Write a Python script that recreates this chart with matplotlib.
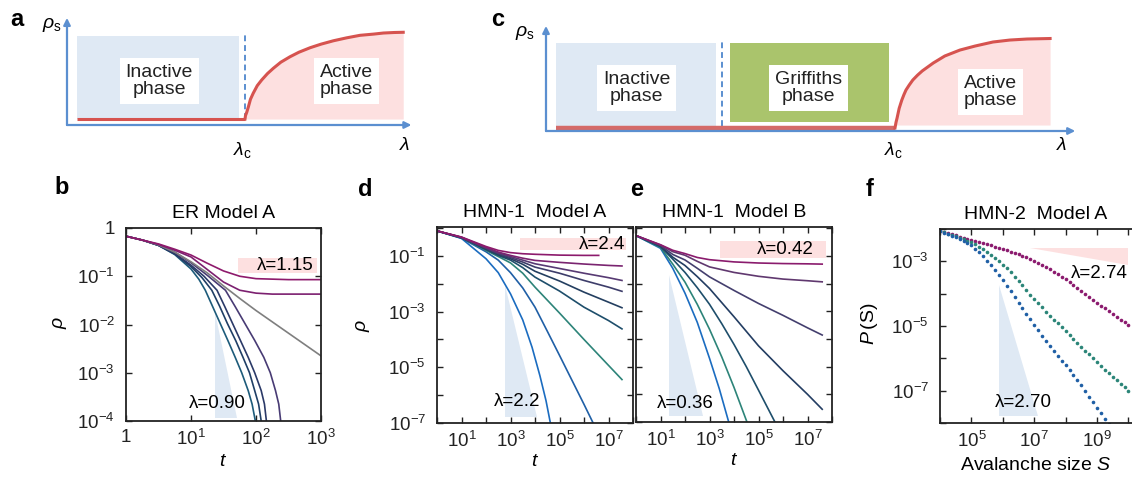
import matplotlib
matplotlib.use('Agg')
import matplotlib.pyplot as plt
import numpy as np
from matplotlib.patches import Rectangle, Polygon
from matplotlib.ticker import FixedLocator, FuncFormatter

plt.rcParams['font.family'] = ['Liberation Sans', 'DejaVu Sans']
plt.rcParams['mathtext.fontset'] = 'custom'
plt.rcParams['mathtext.rm'] = 'Liberation Sans'
plt.rcParams['mathtext.it'] = 'Liberation Sans:italic'
plt.rcParams['mathtext.bf'] = 'Liberation Sans:bold'

# ---------------- schematic phase diagrams (a, c) ----------------
# schematic units: lambda axis 0..10, rho_s axis 0..10
a_inactive = (0.29, 5.04, 0.57, 8.48)      # lam0, lam1, rho0, rho1
a_lam_c = 5.22
a_dash_top = 8.76
a_curve_lam = [5.22, 5.235, 5.27, 5.32, 5.38, 5.46, 5.58, 5.71, 5.88, 6.05, 6.27, 6.54,
               6.8, 7.13, 7.45, 7.81, 8.2, 8.59, 9.0, 9.28, 9.6, 9.86]
a_curve_rho = [0.57, 0.9, 1.2, 1.74, 2.45, 3.02, 3.75, 4.29, 4.9, 5.40, 5.98, 6.50,
               6.93, 7.36, 7.7, 8.02, 8.3, 8.54, 8.66, 8.76, 8.81, 8.83]

c_inactive = (0.19, 3.24, 0.49, 8.54)
c_dash_lam = 3.36
c_griffiths = (3.51, 6.55, 0.87, 8.54)
c_lam_c = 6.66
c_flat_rho = 0.29
c_curve_lam = [6.66, 6.68, 6.70, 6.74, 6.79, 6.83, 6.87, 6.93, 7.00, 7.09, 7.18, 7.39,
               7.61, 7.90, 8.19, 8.53, 8.85, 9.18, 9.62]
c_curve_rho = [0.29, 0.85, 1.26, 2.2, 3.00, 3.52, 3.98, 4.45, 4.95, 5.42, 5.83, 6.60,
               7.28, 7.86, 8.25, 8.64, 8.83, 8.93, 8.98]

# ---------------- panel b: ER Model A (log10 t, log10 rho) ----------------
b_colors = ['#1d5b7a', '#203f66', '#2b3a68', '#483b74', '#7f7f7f', '#7c2070', '#8e1a6c']
b_logt = [
    [0, .25, .5, .75, 1, 1.12, 1.22, 1.33, 1.45, 1.57, 1.68, 1.78, 1.88, 1.94, 1.99, 2.02],
    [0, .25, .5, .75, 1, 1.17, 1.32, 1.44, 1.56, 1.69, 1.8, 1.9, 1.98, 2.04, 2.08, 2.11],
    [0, .25, .5, .75, 1, 1.2, 1.4, 1.52, 1.64, 1.76, 1.88, 1.98, 2.08, 2.13, 2.16, 2.19],
    [0, .25, .5, .75, 1, 1.25, 1.53, 1.68, 1.83, 1.98, 2.12, 2.22, 2.30, 2.35, 2.38, 2.41],
    [0, .25, .5, .75, 1, 1.25, 1.5, 1.75, 2, 2.5, 3],
    [0, .25, .5, .75, 1, 1.25, 1.5, 1.75, 2, 2.25, 2.5, 3],
    [0, .25, .5, .75, 1, 1.25, 1.5, 1.75, 2, 2.5, 3],
]
b_logrho = [
    [-.17, -.25, -.36, -.55, -.85, -1.06, -1.29, -1.62, -1.98, -2.34, -2.68, -3.0, -3.37, -3.65, -4.0, -4.25],
    [-.17, -.25, -.36, -.54, -.8, -1.03, -1.29, -1.62, -1.98, -2.34, -2.68, -3.0, -3.37, -3.65, -4.0, -4.25],
    [-.17, -.25, -.36, -.53, -.77, -1.0, -1.29, -1.63, -1.98, -2.33, -2.68, -3.0, -3.37, -3.65, -4.0, -4.25],
    [-.17, -.25, -.35, -.5, -.72, -.98, -1.29, -1.63, -1.98, -2.33, -2.68, -3.0, -3.37, -3.65, -4.0, -4.25],
    [-.17, -.25, -.35, -.5, -.7, -.93, -1.2, -1.46, -1.71, -2.18, -2.65],
    [-.17, -.25, -.34, -.46, -.6, -.86, -1.12, -1.29, -1.35, -1.37, -1.37, -1.37],
    [-.17, -.25, -.33, -.44, -.56, -.73, -.89, -1.0, -1.05, -1.07, -1.07],
]

# ---------------- panel d: HMN-1 Model A ----------------
d_colors = ['#1b6cc0', '#1f5fa6', '#2d8479', '#1e4e6b', '#243f60', '#3d3d6a', '#573a73', '#7a2470', '#8c1a6c']
d_logt = [
    [0, 1, 2, 2.5, 3, 3.5, 3.88, 4.2, 4.45, 4.65],
    [0, 1, 2, 2.5, 3, 3.5, 4, 4.5, 5, 5.5, 6, 6.4],
    [0, 1, 2, 2.5, 3, 3.5, 4, 5, 6, 7, 7.55],
    [0, 1, 2, 2.5, 3, 3.5, 4, 5, 6, 7, 7.55],
    [0, 1, 2, 2.5, 3, 3.5, 4, 5, 6, 7, 7.55],
    [0, 1, 2, 2.5, 3, 3.5, 4, 5, 6, 7, 7.55],
    [0, 1, 2, 2.5, 3, 3.5, 4, 5, 6, 7, 7.55],
    [0, 1, 2, 2.5, 3, 3.5, 4, 5, 6, 7, 7.55],
    [0, 1, 2, 2.5, 3, 3.5, 4, 5, 6, 6.6],
]
d_logrho = [
    [-.1, -.37, -1.1, -1.6, -2.36, -3.3, -4.28, -5.3, -6.2, -7.1],
    [-.1, -.36, -.85, -1.15, -1.6, -2.15, -2.84, -3.7, -4.57, -5.45, -6.33, -7.05],
    [-.1, -.35, -.8, -1.02, -1.25, -1.62, -2.12, -3.05, -4.0, -4.93, -5.44],
    [-.1, -.35, -.77, -.98, -1.15, -1.42, -1.76, -2.26, -2.84, -3.32, -3.62],
    [-.1, -.34, -.75, -.95, -1.1, -1.3, -1.55, -1.9, -2.3, -2.66, -2.86],
    [-.1, -.34, -.73, -.92, -1.06, -1.22, -1.4, -1.62, -1.88, -2.12, -2.27],
    [-.1, -.33, -.71, -.89, -1.02, -1.15, -1.28, -1.45, -1.62, -1.78, -1.88],
    [-.1, -.33, -.69, -.86, -.98, -1.08, -1.16, -1.23, -1.29, -1.34, -1.36],
    [-.1, -.32, -.66, -.8, -.88, -.92, -.94, -.97, -.98, -.98],
]

# ---------------- panel e: HMN-1 Model B ----------------
e_colors = ['#1b6cc0', '#2d8479', '#1e4e6b', '#233d62', '#443f6e', '#60386f', '#8a1b6d']
e_logt = [
    [0, 1, 1.5, 2, 2.5, 3, 3.4, 3.8],
    [0, 1, 1.5, 2, 2.5, 3, 3.5, 4, 4.55],
    [0, 1, 1.5, 2, 2.5, 3, 3.5, 4, 4.5, 5, 5.7],
    [0, 1, 1.5, 2, 2.5, 3, 4, 5, 6, 7, 7.6],
    [0, 1, 1.5, 2, 2.5, 3, 4, 5, 6, 7, 7.6],
    [0, 1, 1.5, 2, 2.5, 3, 4, 5, 6, 7, 7.6],
    [0, 1, 1.5, 2, 2.5, 3, 4, 5, 6, 7, 7.6],
]
e_logrho = [
    [-.27, -.73, -1.45, -2.35, -3.4, -4.7, -5.8, -7.05],
    [-.27, -.7, -1.3, -1.95, -2.75, -3.65, -4.65, -5.75, -7.05],
    [-.27, -.67, -1.12, -1.6, -2.15, -2.75, -3.45, -4.2, -5.0, -5.85, -7.05],
    [-.27, -.65, -1.05, -1.35, -1.75, -2.18, -3.2, -4.25, -5.15, -6.0, -6.54],
    [-.27, -.63, -.95, -1.15, -1.45, -1.76, -2.25, -2.72, -3.15, -3.6, -3.86],
    [-.27, -.61, -.85, -.98, -1.2, -1.4, -1.6, -1.74, -1.84, -1.9, -1.94],
    [-.27, -.6, -.8, -.92, -1.06, -1.14, -1.22, -1.26, -1.28, -1.29, -1.30],
]

# ---------------- panel f: HMN-2 avalanche sizes, log10 S from 4 in steps of 1/8 ----------------
f_logS = np.linspace(4, 10, 49)
f_logP_274 = [-2.070, -2.102, -2.135, -2.168, -2.200, -2.232, -2.265, -2.298,
              -2.330, -2.365, -2.400, -2.435, -2.470, -2.507, -2.545, -2.582,
              -2.620, -2.660, -2.700, -2.740, -2.780, -2.828, -2.877, -2.927,
              -2.980, -3.045, -3.112, -3.180, -3.250, -3.326, -3.404, -3.482,
              -3.560, -3.650, -3.740, -3.830, -3.920, -4.010, -4.100, -4.190,
              -4.280, -4.367, -4.455, -4.542, -4.630, -4.715, -4.800, -4.885, -4.970]
f_logP_272 = [-2.070, -2.105, -2.142, -2.180, -2.220, -2.265, -2.310, -2.358,
              -2.410, -2.475, -2.545, -2.620, -2.700, -2.795, -2.895, -2.995,
              -3.100, -3.220, -3.345, -3.470, -3.600, -3.740, -3.885, -4.030,
              -4.170, -4.300, -4.425, -4.552, -4.680, -4.800, -4.915, -5.032,
              -5.150, -5.272, -5.395, -5.518, -5.640, -5.760, -5.880, -6.000,
              -6.120, -6.235, -6.350, -6.465, -6.580, -6.685, -6.790, -6.895, -7.000]
f_logP_270 = [-2.070, -2.113, -2.157, -2.203, -2.250, -2.308, -2.370, -2.435,
              -2.500, -2.610, -2.725, -2.850, -2.980, -3.125, -3.275, -3.428,
              -3.580, -3.755, -3.930, -4.105, -4.280, -4.452, -4.625, -4.797,
              -4.970, -5.132, -5.295, -5.458, -5.620, -5.770, -5.920, -6.070,
              -6.220, -6.375, -6.530, -6.685, -6.840, -7.012, -7.185, -7.358,
              -7.530, -7.700, -7.870, -8.040]
f_series = [(f_logP_274, '#8b1a6e'), (f_logP_272, '#2b8578'), (f_logP_270, '#1f5fa5')]

# ---------------- figure ----------------
W, H = 1132, 479
fig = plt.figure(figsize=(W / 100, H / 100), dpi=100)

def px_axes(x0, y0, x1, y1):
    return fig.add_axes([x0 / W, 1 - y1 / H, (x1 - x0) / W, (y1 - y0) / H])

def ftext(x, y, s, **kw):
    fig.text(x / W, 1 - y / H, s, **kw)

BLUE_AX = '#5b8fd0'
RED = '#d6534f'
PINK = '#fde0e0'
LBLUE = '#dfe9f4'
GREEN = '#aac46c'
TICK_FS = 13.5
LAB_FS = 14
LAM_FS = 13.5

def schematic(ax):
    ax.set_xlim(0, 10)
    ax.set_ylim(0, 10)
    ax.axis('off')
    ap = dict(arrowstyle='-|>', color=BLUE_AX, lw=1.6, mutation_scale=10, shrinkA=0, shrinkB=0)
    ax.annotate('', xy=(10.1, 0), xytext=(0, 0), arrowprops=ap, annotation_clip=False)
    ax.annotate('', xy=(0, 10.2), xytext=(0, 0), arrowprops=ap, annotation_clip=False)

def phase_box(ax, x, y, s):
    ax.text(x, y, s, ha='center', va='center', fontsize=14, color='#222222', linespacing=1.05,
            bbox=dict(facecolor='white', edgecolor='none', pad=4))

# panel a
axa = px_axes(67, 20, 408, 125)
schematic(axa)
l0, l1, r0, r1 = a_inactive
axa.add_patch(Rectangle((l0, r0), l1 - l0, r1 - r0, facecolor=LBLUE, edgecolor='none'))
axa.plot([a_lam_c, a_lam_c], [r0, a_dash_top], ls=(0, (3, 2)), color=BLUE_AX, lw=1.4)
axa.fill_between(a_curve_lam, r0, a_curve_rho, color=PINK, lw=0)
axa.plot([l0, a_lam_c], [r0, r0], color=RED, lw=2.2, solid_capstyle='butt')
axa.plot(a_curve_lam, a_curve_rho, color=RED, lw=2.2)
phase_box(axa, 2.71, 4.19, 'Inactive\nphase')
phase_box(axa, 8.20, 4.19, 'Active\nphase')
ftext(17, 20, 'a', fontsize=17, fontweight='bold', ha='center', va='center')
ftext(52, 25, r'$\rho_{\rm s}$', fontsize=14, ha='center', va='center')
ftext(242, 150, r'$\lambda_{\rm c}$', fontsize=14, ha='center', va='center')
ftext(405, 146, r'$\lambda$', fontsize=14, ha='center', va='center')

# panel c
axc = px_axes(546, 28, 1070, 131)
schematic(axc)
l0, l1, r0, r1 = c_inactive
axc.add_patch(Rectangle((l0, r0), l1 - l0, r1 - r0, facecolor=LBLUE, edgecolor='none'))
g0, g1, s0, s1 = c_griffiths
axc.add_patch(Rectangle((g0, s0), g1 - g0, s1 - s0, facecolor=GREEN, edgecolor='none'))
axc.plot([c_dash_lam, c_dash_lam], [r0, 8.7], ls=(0, (3, 2)), color=BLUE_AX, lw=1.4)
axc.fill_between(c_curve_lam, 0.58, c_curve_rho, color=PINK, lw=0)
axc.plot([l0, c_lam_c], [c_flat_rho, c_flat_rho], color='#d46a68', lw=3.2, solid_capstyle='butt')
axc.plot(c_curve_lam, c_curve_rho, color=RED, lw=2.2)
phase_box(axc, 1.73, 4.17, 'Inactive\nphase')
phase_box(axc, 5.01, 4.17, 'Griffiths\nphase')
phase_box(axc, 8.48, 3.79, 'Active\nphase')
ftext(498, 20, 'c', fontsize=17, fontweight='bold', ha='center', va='center')
ftext(525, 33, r'$\rho_{\rm s}$', fontsize=14, ha='center', va='center')
ftext(893, 150, r'$\lambda_{\rm c}$', fontsize=14, ha='center', va='center')
ftext(1062, 146, r'$\lambda$', fontsize=14, ha='center', va='center')

# ---------------- log panels ----------------
def pow_formatter(labelled):
    def fmt(v, pos):
        e = int(round(np.log10(v)))
        if e not in labelled:
            return ''
        return '1' if e == 0 else r'$10^{%d}$' % e
    return FuncFormatter(fmt)

def log_axes(ax, xe, ye, xlab, ylab, xlim, ylim, right=True):
    ax.set_xscale('log')
    ax.set_yscale('log')
    ax.set_xlim(*xlim)
    ax.set_ylim(*ylim)
    ax.xaxis.set_major_locator(FixedLocator([10.0 ** k for k in xe]))
    ax.yaxis.set_major_locator(FixedLocator([10.0 ** k for k in ye]))
    ax.xaxis.set_minor_locator(FixedLocator([]))
    ax.yaxis.set_minor_locator(FixedLocator([]))
    ax.xaxis.set_major_formatter(pow_formatter(xlab))
    ax.yaxis.set_major_formatter(pow_formatter(ylab))
    ax.tick_params(which='both', direction='in', top=True, right=right, length=4, width=1,
                   labelsize=TICK_FS, colors='#222222')
    ax.tick_params(axis='y', pad=8)
    ax.tick_params(axis='x', pad=6)
    for s in ax.spines.values():
        s.set_linewidth(1.3)
        s.set_color('#222222')

def pink_box(ax, x0, x1, y0, y1):
    ax.add_patch(Rectangle((x0, y0), x1 - x0, y1 - y0, transform=ax.transAxes,
                           facecolor=PINK, edgecolor='none', zorder=1))

def blue_wedge(ax, x0, x1, ytop, ybot):
    ax.add_patch(Polygon([(x0, ytop), (x0, ybot), (x1, ybot)], closed=True, transform=ax.transAxes,
                         facecolor=LBLUE, edgecolor='none', zorder=1))

def curves(ax, logt, logrho, colors):
    for lt, lr, c in zip(logt, logrho, colors):
        ax.plot(10.0 ** np.array(lt), 10.0 ** np.array(lr), color=c, lw=1.2, zorder=2)

def lam_text(ax, x, y, s, ha):
    ax.text(x, y, s, transform=ax.transAxes, ha=ha, va='center', fontsize=LAM_FS, zorder=3)

# b
axb = px_axes(126, 228, 321, 421)
log_axes(axb, range(0, 4), range(-4, 1), {0, 1, 2, 3}, {0, -1, -2, -3, -4}, (1, 1e3), (1e-4, 1))
pink_box(axb, 0.574, 0.98, 0.767, 0.845)
blue_wedge(axb, 0.456, 0.569, 0.565, 0.016)
curves(axb, b_logt, b_logrho, b_colors)
lam_text(axb, 0.96, 0.806, 'λ=1.15', 'right')
lam_text(axb, 0.467, 0.093, 'λ=0.90', 'center')
axb.set_title('ER Model A', fontsize=14, pad=7)
axb.set_xlabel(r'$t$', fontsize=LAB_FS)
axb.set_ylabel(r'$\rho$', fontsize=LAB_FS)
axb.xaxis.set_label_coords(0.5, -0.165)
axb.yaxis.set_label_coords(-0.29, 0.51)
ftext(62, 187, 'b', fontsize=17, fontweight='bold', ha='center', va='center')

# d
axd = px_axes(437, 227, 633, 423)
log_axes(axd, range(0, 9), range(-7, 1), {1, 3, 5, 7}, {-1, -3, -5, -7}, (1, 1e8), (1e-7, 10 ** 0.04))
pink_box(axd, 0.423, 0.964, 0.883, 0.944)
blue_wedge(axd, 0.347, 0.51, 0.704, 0.031)
curves(axd, d_logt, d_logrho, d_colors)
lam_text(axd, 0.96, 0.913, 'λ=2.4', 'right')
lam_text(axd, 0.408, 0.112, 'λ=2.2', 'center')
axd.set_title('HMN-1  Model A', fontsize=14, pad=7)
axd.set_xlabel(r'$t$', fontsize=LAB_FS)
axd.set_ylabel(r'$\rho$', fontsize=LAB_FS)
axd.xaxis.set_label_coords(0.5, -0.155)
axd.yaxis.set_label_coords(-0.33, 0.5)
ftext(365, 190, 'd', fontsize=17, fontweight='bold', ha='center', va='center')

# e
axe = px_axes(636, 227, 832, 422)
log_axes(axe, range(0, 9), range(-7, 1), {1, 3, 5, 7}, set(), (1, 1e8), (1e-7, 10 ** 0.04))
pink_box(axe, 0.429, 0.969, 0.841, 0.928)
blue_wedge(axe, 0.168, 0.342, 0.754, 0.031)
curves(axe, e_logt, e_logrho, e_colors)
lam_text(axe, 0.905, 0.884, 'λ=0.42', 'right')
lam_text(axe, 0.25, 0.097, 'λ=0.36', 'center')
axe.set_title('HMN-1  Model B', fontsize=14, pad=7)
axe.set_xlabel(r'$t$', fontsize=LAB_FS)
axe.xaxis.set_label_coords(0.5, -0.155)
ftext(637, 190, 'e', fontsize=17, fontweight='bold', ha='center', va='center')

# f
axf = px_axes(940, 229, 1136, 423)
log_axes(axf, range(4, 11), range(-8, -1), {5, 7, 9}, {-3, -5, -7}, (1e4, 10 ** 10.24), (1e-8, 1e-2),
         right=False)
axf.add_patch(Polygon([(0.459, 0.902), (0.959, 0.902), (0.959, 0.814)], closed=True,
                      transform=axf.transAxes, facecolor=PINK, edgecolor='none', zorder=1))
blue_wedge(axf, 0.301, 0.50, 0.711, 0.036)
for logp, c in f_series:
    axf.plot(10.0 ** f_logS[:len(logp)], 10.0 ** np.array(logp), ls='none', marker='o',
             ms=2.6, mew=0, color=c, zorder=2)
lam_text(axf, 0.959, 0.773, 'λ=2.74', 'right')
lam_text(axf, 0.426, 0.108, 'λ=2.70', 'center')
axf.set_title('HMN-2  Model A', fontsize=14, pad=7, x=0.49)
axf.set_xlabel(r'Avalanche size $S$', fontsize=LAB_FS)
axf.set_ylabel(r'$P\,$(S)', fontsize=LAB_FS)
axf.xaxis.set_label_coords(0.49, -0.175)
axf.yaxis.set_label_coords(-0.306, 0.51)
ftext(870, 190, 'f', fontsize=17, fontweight='bold', ha='center', va='center')

fig.savefig('out.png', dpi=100)
